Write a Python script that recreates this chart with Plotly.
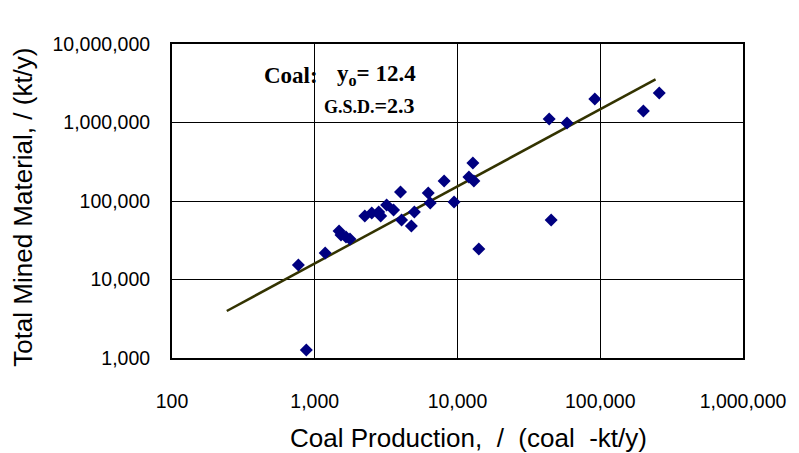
import plotly.graph_objects as go

# Coal mines: annual coal production vs. total mined material (kt/y)
coal_production = [768, 873, 1183, 1480, 1528, 1655, 1765, 2243, 2508, 2805, 2897,
                   3187, 3566, 3987, 4055, 4754, 4989, 6240, 6440, 8060, 9460,
                   12020, 12820, 13020, 14100, 43900, 45300, 58500, 91600,
                   200400, 259000]
total_mined = [15300, 1265, 21770, 41500, 36900, 34800, 32800, 64400, 70300, 72400, 64400,
               88900, 76800, 130300, 57300, 48000, 72400, 126400, 94300, 179800, 97100,
               202000, 304800, 179800, 24500, 1109000, 57300, 985000, 1992000,
               1400000, 2376000]

# Power-law trend line end points
trend_x = [242, 244000]
trend_y = [3970, 3550000]

x_tickvals = [100, 1000, 10000, 100000, 1000000]
x_ticktext = ["100", "1,000", "10,000", "100,000", "1,000,000"]
y_tickvals = [1000, 10000, 100000, 1000000, 10000000]
y_ticktext = ["1,000", "10,000", "100,000", "1,000,000", "10,000,000"]

fig = go.Figure()
fig.add_trace(go.Scatter(
    x=trend_x, y=trend_y, mode="lines",
    line=dict(color="#333300", width=2.5), showlegend=False, hoverinfo="skip"))
fig.add_trace(go.Scatter(
    x=coal_production, y=total_mined, mode="markers",
    marker=dict(symbol="diamond", size=10, color="#000080", line=dict(width=0)),
    showlegend=False))

tick_font = dict(family="Liberation Sans, Arial, sans-serif", size=19.5, color="black")
fig.update_xaxes(type="log", range=[2, 6], tickvals=x_tickvals, ticktext=x_ticktext,
                 showgrid=True, gridcolor="black", gridwidth=1,
                 showline=True, linecolor="black", linewidth=2, mirror=True,
                 ticks="", ticklabelstandoff=25, tickfont=tick_font, zeroline=False)
fig.update_yaxes(type="log", range=[3, 7], tickvals=y_tickvals, ticktext=y_ticktext,
                 showgrid=True, gridcolor="black", gridwidth=1,
                 showline=True, linecolor="black", linewidth=2, mirror=True,
                 ticks="", ticklabelstandoff=16, tickfont=tick_font, zeroline=False)

title_font = dict(family="Liberation Sans, Arial, sans-serif", size=26, color="black")
serif = "Liberation Serif, Times New Roman, serif"
fig.update_layout(
    width=799, height=453,
    margin=dict(l=171.5, r=51.5, t=44, b=95),
    paper_bgcolor="white", plot_bgcolor="white",
    annotations=[
        dict(text="Coal Production,&nbsp; /&nbsp; (coal&nbsp; -kt/y)",
             xref="paper", yref="paper",
             x=0.52, y=-0.255, xanchor="center", yanchor="middle",
             showarrow=False, font=title_font),
        dict(text="Total Mined Material, / (kt/y)", xref="paper", yref="paper",
             x=-0.26, y=0.48, xanchor="center", yanchor="middle", textangle=-90,
             showarrow=False, font=title_font),
        dict(text="<b>Coal:</b>", xref="paper", yref="paper",
             x=0.158, y=0.9, xanchor="left", yanchor="middle",
             showarrow=False, font=dict(family=serif, size=23, color="black")),
        dict(text="<b>y<sub>o</sub>= 12.4</b>", xref="paper", yref="paper",
             x=0.285, y=0.9, xanchor="left", yanchor="middle",
             showarrow=False, font=dict(family=serif, size=23, color="black")),
        dict(text="<b><span style='font-size:18px'>G.S.D.</span>=2.3</b>",
             xref="paper", yref="paper",
             x=0.262, y=0.805, xanchor="left", yanchor="middle",
             showarrow=False, font=dict(family=serif, size=22, color="black")),
    ],
)

fig.write_html("out.html")
